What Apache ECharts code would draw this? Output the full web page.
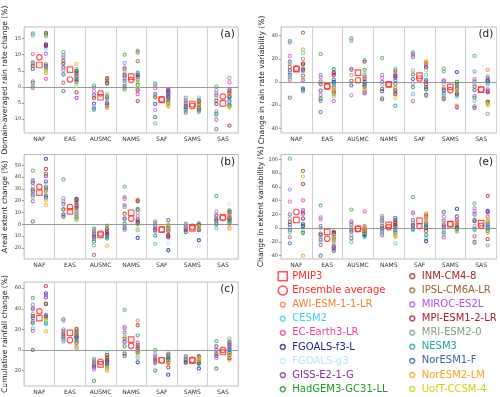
<!DOCTYPE html>
<html>
<head>
<meta charset="UTF-8">
<title>PMIP regional changes</title>
<script src="https://cdn.jsdelivr.net/npm/echarts@6/dist/echarts.min.js"></script>
</head>
<body style="margin:0">
<div id="main" style="width:500px;height:397px;"></div>
<script>
// categories / models
var regions = ['NAF', 'EAS', 'AUSMC', 'NAMS', 'SAF', 'SAMS', 'SAS'];
var models = ['AWI-ESM-1-1-LR', 'CESM2', 'EC-Earth3-LR', 'FGOALS-f3-L', 'FGOALS-g3', 'GISS-E2-1-G',
    'HadGEM3-GC31-LL', 'INM-CM4-8', 'IPSL-CM6A-LR', 'MIROC-ES2L', 'MPI-ESM1-2-LR', 'MRI-ESM2-0',
    'NESM3', 'NorESM1-F', 'NorESM2-LM', 'UofT-CCSM-4'];
var modelColors = ['#f5822f', '#3fd6e8', '#ee3f9f', '#22238c', '#b9eaf7', '#8e2f9c',
    '#229a2a', '#a52a2a', '#9a6535', '#b050f0', '#a8203c', '#82a082',
    '#26a3a3', '#3a66a8', '#f7a623', '#cfcf1a'];
var pmip3Colors = ['#4caf50', '#7e8fd0', '#e85ab8', '#6f5fbf', '#8fb08f', '#a0522d',
    '#3b4ca8', '#c070e0', '#2e8b57', '#5fb9d8', '#b0607a', '#556b8f', '#90c080'];

// tick labels
var rateTicks = [-10, -5, 0, 5, 10, 15];
var areaTicks = [-20, -10, 0, 10, 20, 30, 40, 50];
var cumTicks = [-20, 0, 20, 40, 60];
var rateVarTicks = [-40, -20, 0, 20, 40];
var areaVarTicks = [-40, -20, 0, 20, 40, 60, 80, 100];

// (a) domain-averaged rain rate change
var rateP3 = [
    [16.6, 16.0, 10.2, 7.6, 7.1, 6.5, 5.6, 1.7, 1.2, 0.1, -0.3],
    [10.8, 9.8, 9.2, 8.2, 7.5, 7.2, 6.0, 5.2, 4.0, 3.8, 1.3, -1.3],
    [0.4, -0.2, -1.3, -2.5, -3.0, -3.5, -5.2, -6.4, -6.8, -7.2],
    [10.0, 7.4, 6.0, 5.5, 4.6, 3.8, 3.3, 2.5, 1.9, 1.0, 0.3, -0.4, -0.9],
    [1.0, 0.4, -0.4, -2.2, -2.7, -3.3, -5.3, -7.2, -9.4, -11.3],
    [-3.3, -4.0, -4.5, -5.0, -5.5, -5.9, -6.3, -6.7, -7.0, -7.5, -8.0],
    [0.1, -1.0, -2.0, -2.6, -3.4, -4.3, -5.3, -7.6, -8.3, -8.9, -10.2, -13.1]
];
var rateP4 = [
    [6.0, 12.2, 2.5, 13.2, 11.6, 12.7, 16.3, 16.8, 7.0, 10.3, 13.0, 15.8, 5.4, 6.5, 4.3, 4.8],
    [2.8, 3.6, 2.0, 4.8, 0.4, -3.4, 5.0, -1.7, 3.2, 2.2, 4.2, 5.5, 2.5, 1.6, 7.1, 1.0],
    [-6.5, -2.3, -6.0, -3.3, -2.0, -5.1, 1.0, 2.7, 2.3, -4.8, 1.3, -3.6, -3.0, -5.5, -2.6, -6.2],
    [1.5, 4.0, -2.3, 3.6, 11.5, -0.8, 0.6, -4.4, 8.0, -1.3, 3.0, 2.2, 4.4, 11.0, 10.5, -0.4],
    [-5.8, -2.4, -0.7, -1.4, -3.5, -1.0, -4.2, -2.8, -5.0, -1.9, -3.2, -4.6, -3.8, -2.0, -6.1, -5.4],
    [-6.3, -3.3, -5.4, -4.4, -3.7, -6.7, -5.1, -7.0, -4.1, -5.7, -6.0, -7.3, -7.7, -4.8, -5.0, -6.0],
    [-1.0, -4.2, 1.4, -2.9, -1.7, -5.5, -6.0, -12.0, -1.4, -0.7, -2.0, 2.8, -4.5, -3.3, -2.5, -6.4]
];
var rateP3Mean = [6.8, 5.4, -3.2, 3.2, -4.0, -5.3, -5.1];
var rateP4Mean = [9.2, 2.3, -2.0, 2.2, -3.8, -5.9, -3.0];

// (b) areal extent change
var areaP3 = [
    [45.5, 37.5, 36.5, 35, 32, 29.5, 28, 26, 24.5, 22.5, 19.5, 2.5],
    [38, 22, 19.5, 17, 13, 12.5, 8.5, 7.5, 6.5],
    [-3.5, -5, -6.5, -8, -9, -10, -11, -12.5, -14.5, -18, -26],
    [32, 23, 21.5, 16, 14.5, 9, 5, 4, 0.5, -1.5, -3, -4.5],
    [2.5, 1, -0.5, -1.5, -3, -4, -5, -6, -9.5, -16.5],
    [0.5, -1, -2.5, -3.5, -4, -5, -6.5],
    [24, 11, 8, 7, 5, 4, 3, 1, 0, -3.5]
];
var areaP4 = [
    [28, 35.5, 36.5, 55.5, 39, 41, 24.5, 47, 43, 22, 30.5, 29, 32, 23, 16.5, 20.5],
    [12.5, 10, 16.5, 21.5, 4, 15.5, 18, 20.5, 19.5, 8.5, 14, 11, 6.5, 5, 7.5, 3.5],
    [-10, -4.5, -5.5, -8, -0.5, -9.5, -11, -3.5, -6.5, -7, -9, -10.5, -12, -1.5, -18, -2.5],
    [21, -5, 3, -11.5, -3.5, 2, 4, 19.5, 20, 7, 1, 0, 13, 12, 10, -4.5],
    [-4, -5, -3, -22, -16, -10, -1, -9, -3.5, -5.5, -11, -2, -6, 3.5, -4.5, 0],
    [-3, -4, -2.5, -13.5, -18.5, -5, 0, -1, -1.5, -3.5, -2, 1, -4.5, -0.5, -3, -2],
    [-3.5, 12, 8.5, 5, 17, 4, 3, 11, 10.5, 7, 6, 9.5, 2, 1, 0, 6.5]
];
var areaP3Mean = [26.8, 11.0, -9.0, 9.8, -4.2, -3.5, 6.0];
var areaP4Mean = [31.8, 14.5, -7.8, 4.8, -4.6, -2.2, 5.5];

// (c) cumulative rainfall change
var cumP3 = [
    [50.5, 44, 41, 39.5, 35, 33, 31, 27.5, 26, 21, 18.5, 0],
    [30, 28.5, 20, 18, 16.5, 15, 13, 12, 10, 8],
    [-9, -10.5, -12, -13, -14.5, -15.5, -17, -19, -30],
    [39, 22.5, 21, 17, 13, 11, 8, 7.5, 3.5, -3, -4, -6],
    [0, -4, -6, -8, -9, -10, -12, -13, -20],
    [-6, -7, -8.5, -9.5, -10.5, -11.5, -12.5],
    [8.5, 4, 3, 0, -2, -4, -6, -8, -18]
];
var cumP4 = [
    [30, 25, 34, 55, 27, 51, 45, 62, 31.5, 53, 44.5, 33, 26, 32.5, 18, 29],
    [8.5, 11, 14, 12, 4, 16, 17, 20.5, 19, 2.5, 13, 15, 10, 7, 5.5, 1.5],
    [-20, -2, -8.5, -14.5, -3, -11.5, -7, -5, -9.5, -12.5, -10.5, -16.5, -13.5, -15.5, -18, -17],
    [28.5, -8, 7, -12, -5, 3, 1, 24, 5, 2, -1.5, 0, 14, -3, -2, -6],
    [-11.5, -6, -4.5, -24, -9, -8.5, -7.5, -17, -3.5, -10.5, -12.5, -5.5, -6.5, -9.5, -13.5, -11],
    [-12.5, -10.5, -8, -18, -21.5, -9, -7, -6, -9.5, -13, -11, -7.5, -12, -13.5, -10, -8.5],
    [-9.5, 1, 6.5, -3, -1, 5, 8, -5, 3.5, 2, -8, 11, -2, 0, -4, -6.5]
];
var cumP3Mean = [31, 16.5, -14, 10, -10, -10.3, -2];
var cumP4Mean = [37.5, 9.5, -11.5, 4, -10, -9.7, 0];

// (d) change in rain rate variability
var rateVarP3 = [
    [35.5, 34, 22.5, 17.5, 16, 13, 10, 8, 6, 4, 2, -13.5],
    [24, 6, 4, 0.5, -0.5, -2, -7.5, -11, -14, -15, -16.5, -26],
    [37.5, 35.5, 11.5, 10.5, 6, 1, -3, -11.5],
    [20.5, 6, 3.5, 0, -2.5, -6, -8, -14, -15],
    [25.5, 24.5, 23.5, 21.5, 10, 6.5, 2.5, -1.5, -4.5, -10.5, -16.5],
    [11.5, 9, 1.5, 0.5, -2, -5.5, -7, -8, -10, -12, -14, -15],
    [22.5, 9, 2.5, 0.5, -1.5, -4, -7, -12, -13.5, -16.5, -21, -22.5]
];
var rateVarP4 = [
    [20, 25, 9.5, -6.5, 27, 10.5, 11.5, 15, 42.5, 1.5, 16, -8, -5.5, 5.5, 3, 28],
    [-4.5, -1.5, 8.5, 0, -13, 7.5, 11, -9, -7.5, -16.5, 6, -10.5, -3, 2, -6, -12],
    [-6.5, 19, 4.5, -4, 1, -9, 10.5, 17.5, 3, -10, 0, 6.5, -1.5, -2.5, -7.5, -5.5],
    [8.5, 11.5, 6.5, 5, 0.5, 3.5, -9, -7, 10, 1.5, -10.5, -5, -20.5, -1.5, -4, -14],
    [17.5, 6, 0, 12.5, 3.5, -11, -6.5, -2, 15.5, 14, -4.5, -12, -6, 1.5, 16.5, 10],
    [-7.5, -12.5, -6, 8.5, -13.5, -21.5, 0, -9, -10, -22, -2, -3.5, -5, -11, -20.5, -8],
    [10.5, 5, 3.5, 0.5, -3, -9, -18, -8, 2, -6.5, -17, -27.5, -1.5, 1, -19, -20]
];
var rateVarP3Mean = [11, -3.5, 8, -2, 5.5, -4.3, -6.6];
var rateVarP4Mean = [11.5, -4, 1.5, -2, 3, -7, -6.5];

// (e) change in extent variability
var areaVarP3 = [
    [101, 56, 38.5, 20, 14, 9, 5, 1, -3, -6, -13, -22],
    [33, 15.5, 12.5, 3, 0, -8, -10, -13, -17, -20, -24.5, -40],
    [27, 10, 8.5, 5, 2, -2, -5, -10, -14.5, -20.5],
    [17.5, 15, 12, 10, 7, 3, 0, -2, -5, -8, -10.5],
    [45, 23, 21.5, 12, 8.5, 5, 3, 0, -1.5, -3],
    [24, 23, 17, 11, 8, 4, 2, -1, -6, -8.5, -13.5],
    [36, 29, 25, 21, 19, 12, 10, 3, -1, -3, -12, -20, -22]
];
var areaVarP4 = [
    [23.5, 5, 40.5, 3, 10, 21, -7, 64, 83, 26, 14, -5, 1.5, 6, -40, 75],
    [-13, -21, -15, -7, -23, -27, -33, -29, -10, -31, -5, -25, -17, -9, -19, -11],
    [-2.5, -13, 24.5, -8.5, -15, -4, -1, -5.5, 3, 0.5, -7, -1.5, -11.5, -10, 2, -6],
    [-11, -22, 1, 5, -1, 12, -3, 9, 7, -5, 3, 0, -7, 15, -12.5, -9],
    [21, -15, 16, -19, -12, 8, -10, -4, 18, 13, 0, 6, 2, 4, 14, 10.5],
    [4, 2.5, 12, 28, -3, 17, 0, 8, 6, 10, 1, -5, -2, -1, 7.5, -4],
    [10.5, 6, 17, 25, -2, 23, 0, 47, 8, 2, -16, -25, 4, -4, -7, 12]
];
var areaVarP3Mean = [12, -5.5, -1, 4.8, 10.7, 6, 7.3];
var areaVarP4Mean = [23.5, -15.5, -1, 1.5, 3, 6, 3.4];

var FONT = 'DejaVu Sans';
var RED = '#ff2a2a';
// small ring icon inside a 10x10 box so model icons stay smaller than the red ones
var SMALL_RING = 'path://M0,0L0.01,0M10,10L9.99,10M5,2.3A2.7,2.7,0,1,1,4.99,2.3Z';

var panels = [
    {tag: '(a)', title: 'Domain-averaged rain rate change (%)', p3: rateP3, p4: rateP4, sq: rateP3Mean, ci: rateP4Mean,
        ticks: rateTicks, min: -14.3, max: 18.6, left: 22.7, top: 27, height: 106},
    {tag: '(b)', title: 'Areal extent change (%)', p3: areaP3, p4: areaP4, sq: areaP3Mean, ci: areaP4Mean,
        ticks: areaTicks, min: -29.4, max: 59.2, left: 22.7, top: 154.5, height: 104.5},
    {tag: '(c)', title: 'Cumulative rainfall change (%)', p3: cumP3, p4: cumP4, sq: cumP3Mean, ci: cumP4Mean,
        ticks: cumTicks, min: -35, max: 66, left: 22.7, top: 282, height: 104},
    {tag: '(d)', title: 'Change in rain rate variability (%)', p3: rateVarP3, p4: rateVarP4, sq: rateVarP3Mean, ci: rateVarP4Mean,
        ticks: rateVarTicks, min: -44, max: 47.4, left: 281, top: 27, height: 106},
    {tag: '(e)', title: 'Change in extent variability (%)', p3: areaVarP3, p4: areaVarP4, sq: areaVarP3Mean, ci: areaVarP4Mean,
        ticks: areaVarTicks, min: -44.8, max: 107, left: 281, top: 154.5, height: 104.5}
];
var PW = 215.5;

var grid = [], xAxis = [], yAxis = [], series = [], graphic = [];

panels.forEach(function (p, gi) {
    grid.push({left: p.left, top: p.top, width: PW, height: p.height, show: true,
        borderColor: '#bdbdbd', borderWidth: 1, backgroundColor: 'transparent'});
    // category axis: labels + region dividers
    xAxis.push({
        type: 'category', gridIndex: gi, data: regions, boundaryGap: true,
        axisLine: {show: false}, axisTick: {show: false},
        axisLabel: {interval: 0, fontSize: 6, color: '#333', fontFamily: FONT, margin: 3},
        splitLine: {show: true, interval: 0, lineStyle: {color: '#cfcfcf', width: 1}}
    });
    // hidden value axis for the markers
    xAxis.push({type: 'value', gridIndex: gi, min: 0, max: 7, show: false});
    yAxis.push({
        type: 'value', gridIndex: gi, min: p.min, max: p.max,
        name: p.title, nameLocation: 'middle', nameRotate: 90, nameGap: 12,
        nameTextStyle: {fontSize: 7.6, color: '#222', fontFamily: FONT},
        axisLine: {show: false},
        axisTick: {show: true, length: 2, customValues: p.ticks, lineStyle: {color: '#999'}},
        axisLabel: {fontSize: 5, color: '#444', fontFamily: FONT, margin: 3, customValues: p.ticks},
        splitLine: {show: false}
    });
    var xi = gi * 2 + 1;

    // PMIP3 individual models (left column)
    var leftData = [];
    p.p3.forEach(function (vals, r) {
        vals.forEach(function (v, j) {
            leftData.push({value: [r + 0.286, v], itemStyle: {borderColor: pmip3Colors[j % pmip3Colors.length]}});
        });
    });
    series.push({
        type: 'scatter', name: 'PMIP3 models', xAxisIndex: xi, yAxisIndex: gi,
        symbol: 'circle', symbolSize: 3.2, data: leftData,
        itemStyle: {color: 'rgba(255,255,255,0)', borderWidth: 1.1},
        markLine: {silent: true, symbol: 'none', label: {show: false}, z: 1,
            lineStyle: {color: '#9a9a9a', width: 1, type: 'solid'}, data: [{yAxis: 0}]}
    });

    // PMIP4 models (right column)
    models.forEach(function (m, k) {
        series.push({
            type: 'scatter', name: m, xAxisIndex: xi, yAxisIndex: gi,
            symbol: 'circle', symbolSize: 3.2,
            itemStyle: {color: 'rgba(255,255,255,0)', borderColor: modelColors[k], borderWidth: 1.1},
            data: regions.map(function (rg, r) { return [r + 0.714, p.p4[r][k]]; })
        });
    });

    series.push({
        type: 'scatter', name: 'PMIP3', xAxisIndex: xi, yAxisIndex: gi, z: 5,
        symbol: 'rect', symbolSize: 5.5,
        itemStyle: {color: 'rgba(255,255,255,0)', borderColor: RED, borderWidth: 1.2},
        data: regions.map(function (rg, r) { return [r + 0.5, p.sq[r]]; })
    });
    series.push({
        type: 'scatter', name: 'Ensemble average', xAxisIndex: xi, yAxisIndex: gi, z: 5,
        symbol: 'circle', symbolSize: 5.5,
        itemStyle: {color: 'rgba(255,255,255,0)', borderColor: RED, borderWidth: 1.2},
        data: regions.map(function (rg, r) { return [r + 0.5, p.ci[r]]; })
    });

    graphic.push({
        type: 'text', left: p.left + PW - 18, top: p.top + 2,
        style: {text: p.tag, fontSize: 10.5, fill: '#222', fontFamily: FONT}
    });
});

function legendItems(names) {
    return names.map(function (n) {
        var k = models.indexOf(n);
        if (k < 0) {
            return {name: n, textStyle: {color: RED}, itemStyle: {borderWidth: 1.6}};
        }
        return {name: n, icon: SMALL_RING, textStyle: {color: modelColors[k]},
            itemStyle: {borderWidth: 1.5}};
    });
}

var chart = echarts.init(document.getElementById('main'));
chart.setOption({
    backgroundColor: '#fff',
    animation: false,
    textStyle: {fontFamily: FONT},
    grid: grid,
    xAxis: xAxis,
    yAxis: yAxis,
    legend: [
        {orient: 'vertical', left: 277.5, top: 271, height: 126, padding: 0,
            itemWidth: 9, itemHeight: 9, itemGap: 3.6, itemTextGap: 4,
            textStyle: {fontSize: 10, fontFamily: FONT},
            data: legendItems(['PMIP3', 'Ensemble average'].concat(models.slice(0, 7)))},
        {orient: 'vertical', left: 407, top: 271, height: 126, padding: 0,
            itemWidth: 9, itemHeight: 9, itemGap: 3.6, itemTextGap: 3,
            textStyle: {fontSize: 10, fontFamily: FONT},
            data: legendItems(models.slice(7))}
    ],
    graphic: graphic,
    series: series
});
</script>
</body>
</html>
